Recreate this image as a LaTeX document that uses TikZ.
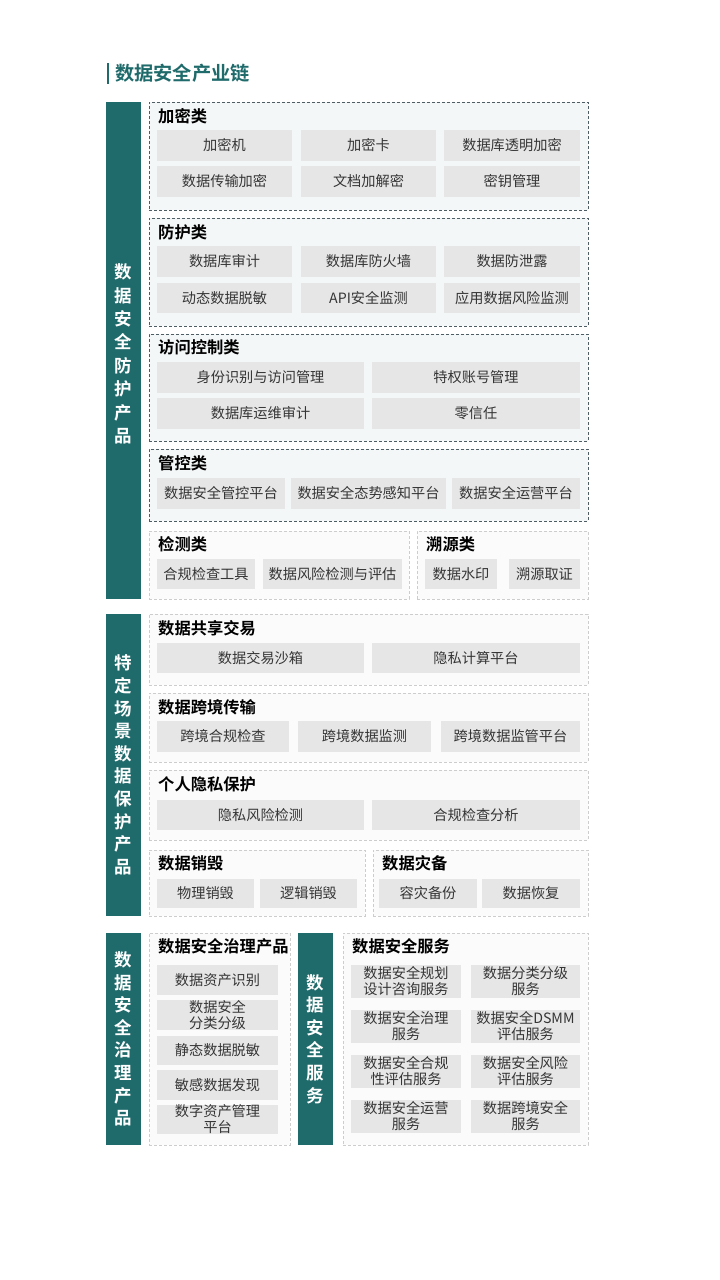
\documentclass[tikz,border=0pt]{standalone}
\usepackage{fontspec}
\setmainfont{Noto Sans CJK SC}[BoldFont={Noto Sans CJK SC Bold}]
\definecolor{teal1}{HTML}{1F6A6B}
\definecolor{itemfill}{HTML}{E6E6E6}
\definecolor{itemtext}{HTML}{353535}
\definecolor{darkdash}{HTML}{4D5D63}
\definecolor{lightdash}{HTML}{CDCDCD}
\definecolor{grpAfill}{HTML}{F4F7F8}
\definecolor{grpBfill}{HTML}{FBFBFB}
\tikzset{
  item/.style={fill=itemfill,text=itemtext,inner sep=0pt,align=center,font=\fontsize{14.2}{16}\selectfont},
  grpA/.style={draw=darkdash,fill=grpAfill,dash pattern=on 3pt off 2pt,line width=0.8pt,inner sep=0pt},
  grpB/.style={draw=lightdash,fill=grpBfill,dash pattern=on 3pt off 2pt,line width=0.8pt,inner sep=0pt},
  gtitle/.style={font=\fontsize{16.3}{18}\bfseries\selectfont,text=black,inner sep=0pt,anchor=west},
  bar/.style={fill=teal1,inner sep=0pt},
  bartext/.style={text=white,align=center,inner sep=0pt,font=\fontsize{17.5}{#1}\bfseries\selectfont},
}
\newcommand\itm[6]{\node[item,minimum width={(#4-#2)*1pt},minimum height={(#5-#3)*1pt}] (#1) at ({(#2+#4)/2},{(#3+#5)/2}) {#6};}
\newcommand\grp[8]{\node[#2,minimum width={(#5-#3)*1pt},minimum height={(#6-#4)*1pt}] (#1) at ({(#3+#5)/2},{(#4+#6)/2}) {};
  \node[gtitle] (#1t) at ({#3+9},#8) {#7};}
\newcommand\barbox[6]{\node[bar,minimum width={(#4-#2)*1pt},minimum height={(#5-#3)*1pt}] (#1) at ({(#2+#4)/2},{(#3+#5)/2}) {};}
\begin{document}
\begin{tikzpicture}[x=1pt,y=-1pt]
\useasboundingbox (0,0) rectangle (720,1280);
\fill[white] (0,0) rectangle (720,1280);
% heading
\node[fill=teal1,minimum width=2pt,minimum height=21pt,inner sep=0pt] (hbar) at (108,73.5) {};
\node[anchor=west,inner sep=0pt,text=teal1,font=\fontsize{19.2}{21}\bfseries\selectfont] (head) at (115,73.5) {数据安全产业链};
% bars
\barbox{b1}{106}{102}{141}{599}{}
\node[bartext=23.4] (b1t) at (123.5,354) {数\\据\\安\\全\\防\\护\\产\\品};
\barbox{b2}{106}{614}{141}{916}{}
\node[bartext=22.6] (b2t) at (123.5,765) {特\\定\\场\\景\\数\\据\\保\\护\\产\\品};
\barbox{b3}{106}{933}{141}{1145}{}
\node[bartext=22.6] (b3t) at (123.5,1039) {数\\据\\安\\全\\治\\理\\产\\品};
\barbox{b4}{298}{933}{333}{1145}{}
\node[bartext=22.6] (b4t) at (315.5,1039) {数\\据\\安\\全\\服\\务};
% 加密类
\grp{g1}{grpA}{149}{102}{588}{210}{加密类}{116}
\itm{a1}{157}{130}{292}{161}{加密机}
\itm{a2}{301}{130}{436}{161}{加密卡}
\itm{a3}{444}{130}{580}{161}{数据库透明加密}
\itm{a4}{157}{166}{292}{197}{数据传输加密}
\itm{a5}{301}{166}{436}{197}{文档加解密}
\itm{a6}{444}{166}{580}{197}{密钥管理}
% 防护类
\grp{g2}{grpA}{149}{218}{588}{326}{防护类}{232}
\itm{p1}{157}{246}{292}{277}{数据库审计}
\itm{p2}{301}{246}{436}{277}{数据库防火墙}
\itm{p3}{444}{246}{580}{277}{数据防泄露}
\itm{p4}{157}{283}{292}{313}{动态数据脱敏}
\itm{p5}{301}{283}{436}{313}{API安全监测}
\itm{p6}{444}{283}{580}{313}{应用数据风险监测}
% 访问控制类
\grp{g3}{grpA}{149}{334}{588}{441}{访问控制类}{347}
\itm{c1}{157}{362}{364}{393}{身份识别与访问管理}
\itm{c2}{372}{362}{580}{393}{特权账号管理}
\itm{c3}{157}{398}{364}{429}{数据库运维审计}
\itm{c4}{372}{398}{580}{429}{零信任}
% 管控类
\grp{g4}{grpA}{149}{449}{588}{521}{管控类}{463}
\itm{m1}{157}{478}{285}{509}{数据安全管控平台}
\itm{m2}{291}{478}{446}{509}{数据安全态势感知平台}
\itm{m3}{452}{478}{580}{509}{数据安全运营平台}
% 检测类 / 溯源类
\grp{g5}{grpB}{149}{531}{409}{599}{检测类}{544}
\itm{d1}{157}{559}{255}{589}{合规检查工具}
\itm{d2}{263}{559}{402}{589}{数据风险检测与评估}
\grp{g6}{grpB}{417}{531}{588}{599}{溯源类}{544}
\itm{s1}{425}{559}{497}{589}{数据水印}
\itm{s2}{509}{559}{580}{589}{溯源取证}
% 数据共享交易
\grp{g7}{grpB}{149}{614}{588}{685}{数据共享交易}{628}
\itm{e1}{157}{643}{364}{673}{数据交易沙箱}
\itm{e2}{372}{643}{580}{673}{隐私计算平台}
% 数据跨境传输
\grp{g8}{grpB}{149}{693}{588}{762}{数据跨境传输}{707}
\itm{k1}{157}{721}{289}{752}{跨境合规检查}
\itm{k2}{298}{721}{431}{752}{跨境数据监测}
\itm{k3}{441}{721}{580}{752}{跨境数据监管平台}
% 个人隐私保护
\grp{g9}{grpB}{149}{770}{588}{840}{个人隐私保护}{784}
\itm{r1}{157}{800}{364}{830}{隐私风险检测}
\itm{r2}{372}{800}{580}{830}{合规检查分析}
% 数据销毁 / 数据灾备
\grp{g10}{grpB}{149}{850}{365}{916}{数据销毁}{863}
\itm{x1}{157}{879}{254}{908}{物理销毁}
\itm{x2}{260}{879}{357}{908}{逻辑销毁}
\grp{g11}{grpB}{373}{850}{588}{916}{数据灾备}{863}
\itm{y1}{379}{879}{477}{908}{容灾备份}
\itm{y2}{482}{879}{580}{908}{数据恢复}
% 数据安全治理产品
\grp{g12}{grpB}{149}{933}{290}{1145}{数据安全治理产品}{946}
\itm{z1}{157}{965}{278}{995}{数据资产识别}
\itm{z2}{157}{1000}{278}{1030}{数据安全\\分类分级}
\itm{z3}{157}{1036}{278}{1065}{静态数据脱敏}
\itm{z4}{157}{1070}{278}{1100}{敏感数据发现}
\itm{z5}{157}{1105}{278}{1134}{数字资产管理\\平台}
% 数据安全服务
\grp{g13}{grpB}{343}{933}{588}{1145}{数据安全服务}{946}
\itm{v1}{351}{965}{461}{998}{数据安全规划\\设计咨询服务}
\itm{v2}{471}{965}{580}{998}{数据分类分级\\服务}
\itm{v3}{351}{1010}{461}{1043}{数据安全治理\\服务}
\itm{v4}{471}{1010}{580}{1043}{数据安全DSMM\\评估服务}
\itm{v5}{351}{1055}{461}{1088}{数据安全合规\\性评估服务}
\itm{v6}{471}{1055}{580}{1088}{数据安全风险\\评估服务}
\itm{v7}{351}{1100}{461}{1133}{数据安全运营\\服务}
\itm{v8}{471}{1100}{580}{1133}{数据跨境安全\\服务}
\end{tikzpicture}
\end{document}
